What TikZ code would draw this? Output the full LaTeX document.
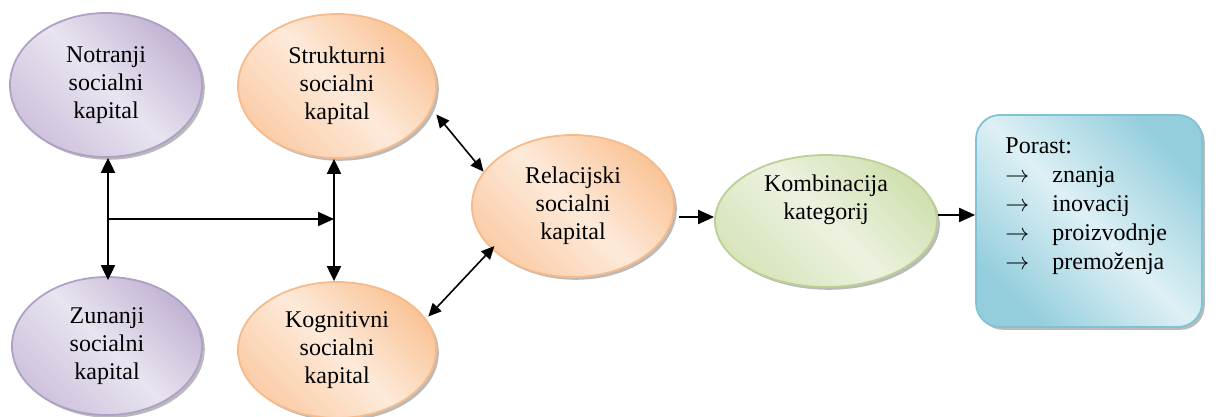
\documentclass[tikz,border=0pt]{standalone}
\usepackage{fontspec}
\setmainfont{Liberation Serif}
\usetikzlibrary{arrows.meta,shapes.geometric,shadows,calc}

\definecolor{purpleedge}{RGB}{176,160,198}
\definecolor{purpledark}{RGB}{194,180,212}
\definecolor{purplelight}{RGB}{233,228,240}
\definecolor{orangeedge}{RGB}{247,186,138}
\definecolor{orangedark}{RGB}{250,196,152}
\definecolor{orangelight}{RGB}{253,234,218}
\definecolor{greenedge}{RGB}{188,208,148}
\definecolor{greendark}{RGB}{208,224,175}
\definecolor{greenlight}{RGB}{236,242,224}
\definecolor{blueedge}{RGB}{128,194,212}
\definecolor{bluedark}{RGB}{148,206,221}
\definecolor{bluelight}{RGB}{222,240,245}

\begin{document}
\begin{tikzpicture}[x=0.5pt,y=0.5pt,yscale=-1,
  every node/.style={font=\fontsize{12}{14}\selectfont},
  bubble/.style={ellipse,draw,line width=0.9pt,align=center,inner sep=0pt,
    drop shadow={shadow xshift=1.4pt,shadow yshift=-1.4pt,fill=black!45,opacity=0.6}},
  purplebubble/.style={bubble,draw=purpleedge,top color=purpledark,bottom color=purpledark!80!white,
    middle color=purplelight,shading angle=-45},
  orangebubble/.style={bubble,draw=orangeedge,top color=orangedark,bottom color=orangedark!85!white,
    middle color=orangelight,shading angle=-45},
  greenbubble/.style={bubble,draw=greenedge,top color=greendark,bottom color=greendark!85!white,
    middle color=greenlight,shading angle=-45},
  bluebox/.style={rectangle,rounded corners=12pt,draw=blueedge,line width=0.9pt,
    top color=bluedark,bottom color=bluedark,middle color=bluelight,shading angle=-45,
    minimum width=113pt,minimum height=106pt,
    drop shadow={shadow xshift=1.4pt,shadow yshift=-1.4pt,fill=black!45,opacity=0.6}},
  link/.style={line width=1pt,{Triangle[length=7.5pt,width=7pt]}-{Triangle[length=7.5pt,width=7pt]}},
  thinlink/.style={line width=0.8pt,{Triangle[length=6.5pt,width=6pt]}-{Triangle[length=6.5pt,width=6pt]}},
  flow/.style={line width=1pt,-{Triangle[length=8pt,width=7pt]}}]
\useasboundingbox (0,0) rectangle (1220,417);

% Ellipses
\node [purplebubble,minimum width=96pt,minimum height=72pt] (notranji) at (106,85) {Notranji\\socialni\\kapital};
\node [purplebubble,minimum width=95pt,minimum height=69pt] (zunanji) at (107,346) {Zunanji\\socialni\\kapital};
\node [orangebubble,minimum width=99pt,minimum height=72pt] (struk) at (337,86) {Strukturni\\socialni\\kapital};
\node [orangebubble,minimum width=99pt,minimum height=68pt] (kog) at (337,350) {Kognitivni\\socialni\\kapital};
\node [orangebubble,minimum width=101pt,minimum height=71pt] (rel) at (573,206) {Relacijski\\socialni\\kapital};
\node [greenbubble,minimum width=111pt,minimum height=66pt] (komb) at (826,221) {Kombinacija\\kategorij\\[10pt]};

% Box
\node [bluebox] (porast) at (1089,221) {};
% Text Node
\node [anchor=north west,inner sep=0pt,align=left,font=\fontsize{12}{14.5}\selectfont]
  (porasttxt) at (1005,137) {Porast:\\
  \makebox[23.5pt][l]{$\rightarrow$}znanja\\
  \makebox[23.5pt][l]{$\rightarrow$}inovacij\\
  \makebox[23.5pt][l]{$\rightarrow$}proizvodnje\\
  \makebox[23.5pt][l]{$\rightarrow$}premoženja};

% Connectors
\draw [link] ([xshift=1pt]notranji.south) -- coordinate (split) ([xshift=0.5pt,yshift=2pt]zunanji.north);
\draw [link] ([xshift=-1.5pt]struk.south) -- ([xshift=-1.5pt]kog.north);
\draw [flow] (split) -- ([xshift=-1.5pt]split -| struk.south);
\draw [thinlink] ([xshift=5pt,yshift=-2pt]struk.-20) -- (rel.159);
\draw [thinlink] ([xshift=2pt]kog.21) -- ([xshift=2pt,yshift=-1pt]rel.207);
\draw [flow] ([xshift=2pt,yshift=-2pt]komb.west -| rel.east) -- ([yshift=-2pt]komb.west);
\draw [flow] ([yshift=-3pt]komb.east) -- ([yshift=-3pt]porast.west);

\end{tikzpicture}
\end{document}
